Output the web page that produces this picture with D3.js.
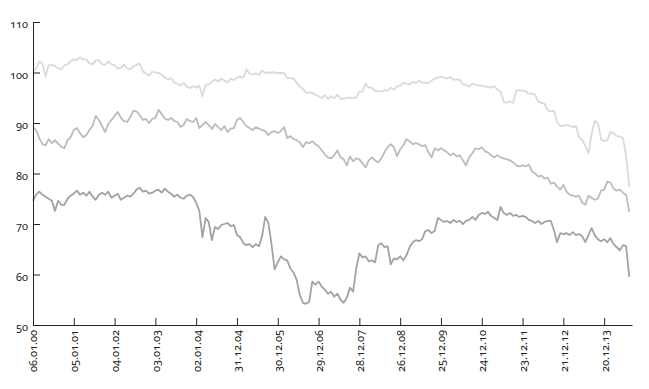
<!DOCTYPE html>
<html>
<head>
<meta charset="utf-8">
<script src="https://cdn.jsdelivr.net/npm/d3@7"></script>
<style>
body { margin: 0; background: #ffffff; }
text { font-family: "Noto Sans", sans-serif; font-size: 11px; font-variant-numeric: oldstyle-nums; fill: #222222; }
</style>
</head>
<body>
<div id="chart"></div>
<script>
var chartWidth = 649
var chartHeight = 389

// one value every 4 weeks, first one on 06.01.00
var weekStep = 4

var tickLabels = ["06.01.00", "05.01.01", "04.01.02", "03.01.03", "02.01.04", "31.12.04", "30.12.05",
    "29.12.06", "28.12.07", "26.12.08", "25.12.09", "24.12.10", "23.12.11", "21.12.12", "20.12.13"]

var yTicks = [50, 60, 70, 80, 90, 100, 110]

var topSeries = [
    100.2, 100.8, 102.2, 101.8, 99.2, 101.4, 101.5, 101.3, 100.8, 100.6, 101.4, 101.6, 102.3,
    102.6, 102.5, 103.0, 102.6, 102.6, 101.8, 101.6, 102.4, 102.4, 101.6, 101.5, 102.2, 101.6,
    101.4, 100.8, 100.9, 101.6, 100.8, 100.6, 101.2, 101.5, 101.8, 100.2, 99.8, 99.4, 100.2,
    100.0, 99.9, 99.6, 99.0, 98.6, 98.9, 98.0, 97.8, 97.4, 98.0, 97.2, 96.9, 97.3,
    97.0, 97.4, 95.3, 97.6, 97.6, 98.2, 98.6, 98.2, 98.8, 98.4, 98.0, 98.8, 98.5,
    99.0, 99.2, 99.0, 100.6, 99.8, 99.6, 99.8, 99.5, 100.4, 99.9, 100.0, 100.0, 100.0,
    99.9, 99.9, 99.9, 98.9, 98.9, 98.8, 98.0, 97.2, 96.8, 96.0, 96.0, 96.0, 95.6,
    95.3, 94.9, 95.5, 94.8, 95.3, 94.9, 95.6, 94.8, 94.8, 95.0, 95.0, 95.0, 95.0,
    96.2, 96.2, 97.8, 97.0, 97.0, 96.3, 96.3, 96.2, 96.5, 96.4, 97.0, 96.6, 97.2,
    97.4, 98.0, 97.8, 97.6, 98.2, 97.9, 98.4, 98.0, 98.0, 97.9, 98.4, 98.8, 99.0,
    99.2, 99.0, 98.8, 99.1, 98.6, 98.6, 98.6, 97.6, 97.6, 97.2, 97.8, 97.6, 97.4,
    97.4, 97.2, 97.2, 97.0, 97.3, 96.6, 96.2, 94.2, 94.0, 94.3, 94.0, 96.4, 96.5,
    96.4, 96.3, 95.8, 95.8, 95.6, 94.2, 94.0, 93.8, 92.5, 92.3, 92.4, 90.2, 89.4,
    89.5, 89.6, 89.5, 89.2, 89.4, 87.2, 86.6, 85.5, 84.0, 87.8, 90.4, 90.0, 86.8,
    86.4, 86.6, 88.2, 88.0, 87.4, 87.3, 87.0, 83.5, 77.3
]

var midSeries = [
    89.2, 88.6, 87.0, 85.8, 85.6, 86.8, 86.0, 86.6, 85.9, 85.3, 85.0, 86.6, 87.2,
    88.6, 89.0, 88.0, 87.2, 87.6, 88.6, 89.4, 91.4, 90.6, 89.4, 88.2, 89.8, 90.6,
    91.4, 92.2, 91.0, 90.4, 90.2, 91.2, 92.4, 92.3, 91.6, 90.6, 90.8, 90.0, 90.8,
    91.0, 92.6, 91.8, 90.9, 90.6, 91.0, 90.4, 90.2, 89.2, 89.6, 90.8, 90.4, 90.2,
    91.0, 89.0, 89.6, 90.2, 89.6, 88.8, 89.8, 89.2, 88.6, 89.4, 88.2, 88.9, 89.0,
    90.6, 91.0, 90.2, 89.4, 89.0, 88.6, 89.2, 88.9, 88.6, 88.4, 87.6, 88.2, 88.4,
    88.0, 88.4, 89.2, 87.0, 87.4, 86.8, 86.6, 86.2, 85.2, 86.2, 86.0, 86.4, 85.8,
    85.4, 84.6, 83.8, 83.2, 83.0, 83.6, 84.6, 83.2, 82.8, 81.6, 83.4, 82.4, 83.0,
    82.8, 82.0, 81.2, 82.6, 83.2, 82.6, 82.2, 83.0, 84.2, 85.2, 85.8, 85.2, 83.4,
    84.8, 85.6, 86.8, 86.4, 85.8, 86.0, 85.8, 85.4, 85.6, 84.2, 83.2, 85.0, 84.6,
    85.0, 84.6, 84.2, 83.6, 84.0, 83.4, 83.6, 82.6, 81.6, 83.2, 84.0, 85.0, 84.8,
    85.2, 84.4, 84.2, 83.6, 83.2, 83.6, 83.2, 83.0, 82.8, 82.6, 82.2, 81.6, 81.4,
    81.6, 81.4, 81.8, 80.4, 80.0, 79.4, 79.6, 79.0, 79.2, 78.0, 78.2, 77.4, 76.8,
    77.8, 76.4, 75.8, 75.6, 75.4, 75.6, 74.2, 73.8, 75.6, 75.2, 74.8, 75.0, 76.6,
    76.8, 78.4, 78.2, 77.0, 76.6, 76.8, 76.2, 75.8, 72.4
]

var lowSeries = [
    74.6, 75.8, 76.4, 75.8, 75.4, 75.0, 74.6, 72.6, 74.6, 73.8, 73.8, 75.0, 75.6,
    76.0, 76.6, 75.8, 76.2, 75.6, 76.4, 75.4, 74.8, 75.8, 76.2, 75.8, 76.4, 75.2,
    75.6, 76.0, 74.8, 75.2, 75.6, 75.4, 76.0, 76.8, 77.2, 76.4, 76.6, 76.0, 76.2,
    76.6, 76.8, 76.2, 77.0, 76.4, 76.0, 75.4, 75.8, 75.2, 75.0, 75.6, 75.8, 75.4,
    74.2, 72.6, 67.4, 71.2, 70.4, 66.8, 69.4, 69.0, 69.8, 70.0, 70.2, 69.6, 69.8,
    67.8, 67.4, 66.2, 65.8, 66.0, 65.4, 66.0, 65.6, 67.6, 71.4, 70.2, 66.0, 61.0,
    62.4, 63.6, 63.0, 62.8, 61.2, 60.4, 59.0, 56.0, 54.4, 54.2, 54.6, 58.6, 58.0,
    58.6, 57.6, 57.0, 56.2, 56.6, 55.6, 56.2, 55.0, 54.4, 55.4, 57.4, 56.6, 61.2,
    64.2, 63.4, 63.6, 62.6, 62.8, 62.4, 65.8, 66.2, 65.4, 65.6, 62.0, 63.2, 63.0,
    63.6, 62.8, 63.8, 65.4, 66.4, 66.8, 66.6, 67.0, 68.6, 68.8, 68.2, 68.6, 71.2,
    70.8, 70.4, 70.6, 70.2, 70.8, 70.4, 70.6, 70.0, 70.6, 70.8, 71.4, 70.8, 71.8,
    72.2, 72.0, 72.4, 71.6, 71.2, 70.8, 73.4, 72.2, 71.8, 72.2, 71.6, 71.8, 71.4,
    71.6, 71.4, 70.8, 70.6, 70.2, 70.6, 70.0, 70.4, 70.6, 70.6, 68.8, 66.4, 68.2,
    68.0, 68.2, 67.8, 68.4, 67.8, 68.0, 67.6, 66.4, 67.8, 69.2, 67.8, 67.0, 66.6,
    67.0, 66.4, 67.2, 66.0, 65.4, 64.8, 65.8, 65.6, 59.5
]

var seriesList = [
    {values: topSeries, colour: "#dadada"},
    {values: midSeries, colour: "#bcbcbc"},
    {values: lowSeries, colour: "#a2a2a2"}
]

var svg = d3.select("#chart")
    .append("svg")
        .attr("width", chartWidth)
        .attr("height", chartHeight)

var x = d3.scaleLinear()
    .domain([0, 763.5])
    .range([33, 632])

var y = d3.scaleLinear()
    .domain([50, 110])
    .range([325, 22])

var line = d3.line()
    .x(function(d, i){ return x(i * weekStep) })
    .y(function(d){ return y(d) })

svg.selectAll("path.series")
    .data(seriesList)
    .enter()
    .append("path")
        .attr("class", "series")
        .attr("d", function(d){ return line(d.values) })
        .attr("fill", "none")
        .attr("stroke", function(d){ return d.colour })
        .attr("stroke-width", 1.8)
        .attr("stroke-linejoin", "round")

var yAxis = svg.append("g")
    .attr("transform", "translate(33,0)")
    .call(d3.axisLeft(y).tickValues(yTicks).tickSize(-7).tickPadding(5).tickSizeOuter(0))
yAxis.selectAll("text").attr("dy", "0.5em")

var xAxis = svg.append("g")
    .attr("transform", "translate(0,325)")
    .call(d3.axisBottom(x)
        .tickValues(tickLabels.map(function(d, i){ return i * 52 }))
        .tickFormat(function(d, i){ return tickLabels[i] })
        .tickSize(-7)
        .tickSizeOuter(0))
xAxis.selectAll("text")
    .attr("transform", "rotate(-90)")
    .attr("text-anchor", "end")
    .attr("x", -5)
    .attr("y", 0)
    .attr("dy", "0.35em")

svg.selectAll(".domain, .tick line").attr("stroke", "#222222")
svg.selectAll(".tick text").style("font-size", "11px")
</script>
</body>
</html>
